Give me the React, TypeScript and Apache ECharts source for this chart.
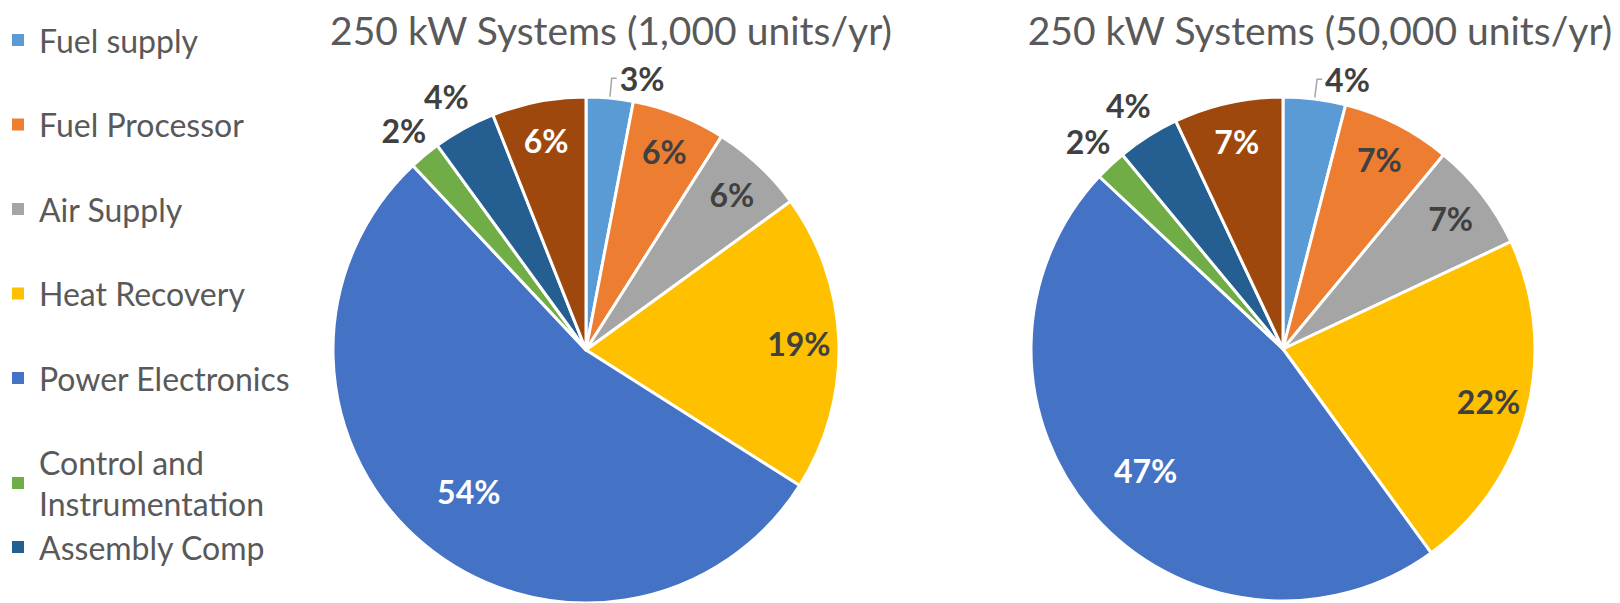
import React, { useEffect, useRef } from "react";
import * as echarts from "echarts";

// ---- data ----
const categories = [
  "Fuel supply",
  "Fuel Processor",
  "Air Supply",
  "Heat Recovery",
  "Power Electronics",
  "Control and Instrumentation",
  "Assembly Comp",
  "Other",
];
const values1k = [3, 6, 6, 19, 54, 2, 4, 6];
const values50k = [4, 7, 7, 22, 47, 2, 4, 7];
const titles = ["250 kW Systems (1,000 units/yr)", "250 kW Systems (50,000 units/yr)"];
const legendFirst = categories.slice(0, 6);
const legendSecond = categories.slice(6, 7);
const outsideNames = ["Fuel supply", "Control and Instrumentation", "Assembly Comp"];
const deepLabelNames = ["Power Electronics"];
const whiteLabelNames = ["Power Electronics", "Other"];

// ---- styles ----
const palette = ["#5B9BD5", "#ED7D31", "#A5A5A5", "#FFC000", "#4472C4", "#70AD47", "#255E91", "#9E480E"];
const FONT = "Lato, 'Open Sans', sans-serif";
const DARK = "#404040";
const LABEL_SIZE = 32;

function outsideConf(name: string) {
  if (name === "Fuel supply") {
    return {
      label: { show: true, distanceToLabelLine: 3 },
      labelLine: { show: true, length: 20, length2: 5, lineStyle: { color: "#A6A6A6", width: 1.5 } },
    };
  }
  if (name === "Control and Instrumentation") {
    return { label: { show: true, distanceToLabelLine: -22 }, labelLine: { show: false, length: 32, length2: 0 } };
  }
  return { label: { show: true, distanceToLabelLine: -22 }, labelLine: { show: false, length: 36, length2: 0 } };
}

function labelRing(values: number[], center: number[], radius: number[], names: string[], key: string) {
  return {
    type: "pie",
    name: key,
    center,
    radius,
    startAngle: 90,
    clockwise: true,
    silent: true,
    avoidLabelOverlap: false,
    tooltip: { show: false },
    itemStyle: { color: "transparent", borderWidth: 0 },
    label: {
      show: true,
      position: "inside",
      fontFamily: FONT,
      fontWeight: "bold",
      fontSize: LABEL_SIZE,
      color: DARK,
      formatter: (p: any) => `${p.value}%`,
    },
    labelLine: { show: false },
    data: categories.map((name, i) => ({
      name,
      value: values[i],
      itemStyle: { color: "transparent" },
      label: {
        show: names.includes(name),
        color: whiteLabelNames.includes(name) ? "#ffffff" : DARK,
      },
    })),
  };
}

function pieSeries(values: number[], center: number[], R: number, idx: number) {
  const main = {
    type: "pie",
    name: titles[idx],
    center,
    radius: R,
    startAngle: 90,
    clockwise: true,
    avoidLabelOverlap: false,
    emphasis: { scale: false },
    itemStyle: { borderColor: "#ffffff", borderWidth: 3 },
    label: {
      show: false,
      position: "outside",
      fontFamily: FONT,
      fontWeight: "bold",
      fontSize: LABEL_SIZE,
      color: DARK,
      formatter: (p: any) => `${p.value}%`,
    },
    labelLine: { show: false },
    data: categories.map((name, i) => ({
      name,
      value: values[i],
      itemStyle: { color: palette[i] },
      ...(outsideNames.includes(name) ? outsideConf(name) : {}),
    })),
  };
  const insideNames = categories.filter((n) => !outsideNames.includes(n) && !deepLabelNames.includes(n));
  const ring = labelRing(values, center, [R * 0.66, R], insideNames, titles[idx] + " labels");
  const deep = labelRing(values, center, [R * 0.43, R], deepLabelNames, titles[idx] + " labels2");
  return [main, ring, deep];
}

const legendBase = {
  orient: "vertical",
  left: 10,
  padding: 0,
  itemWidth: 14,
  itemHeight: 14,
  itemGap: 43.5,
  icon: "rect",
  textStyle: { fontFamily: FONT, fontSize: 32, color: "#595959", lineHeight: 41, padding: [0, 0, 0, 9] },
  formatter: (name: string) => (name.length > 20 ? name.replace(/ (\S+)$/, "\n$1") : name),
};

const titleStyle = { fontFamily: FONT, fontSize: 39, fontWeight: "normal", color: "#595959" };

export default function App() {
  const ref = useRef<HTMLDivElement>(null);
  useEffect(() => {
    if (!ref.current) return;
    const chart = echarts.init(ref.current, undefined, { renderer: "svg" });
    chart.setOption({
      animation: false,
      backgroundColor: "#ffffff",
      title: [
        { text: titles[0], left: 611, top: 10, textAlign: "center", padding: 0, textStyle: titleStyle },
        { text: titles[1], left: 1320, top: 10, textAlign: "center", padding: 0, textStyle: titleStyle },
      ],
      legend: [
        { ...legendBase, data: legendFirst, top: 19.5 },
        { ...legendBase, data: legendSecond, top: 526.5 },
      ],
      series: [...pieSeries(values1k, [586, 350], 253, 0), ...pieSeries(values50k, [1283, 349], 252, 1)],
    });
    return () => chart.dispose();
  }, []);
  return <div ref={ref} style={{ position: "absolute", left: 0, top: 0, width: 1620, height: 603 }} />;
}
